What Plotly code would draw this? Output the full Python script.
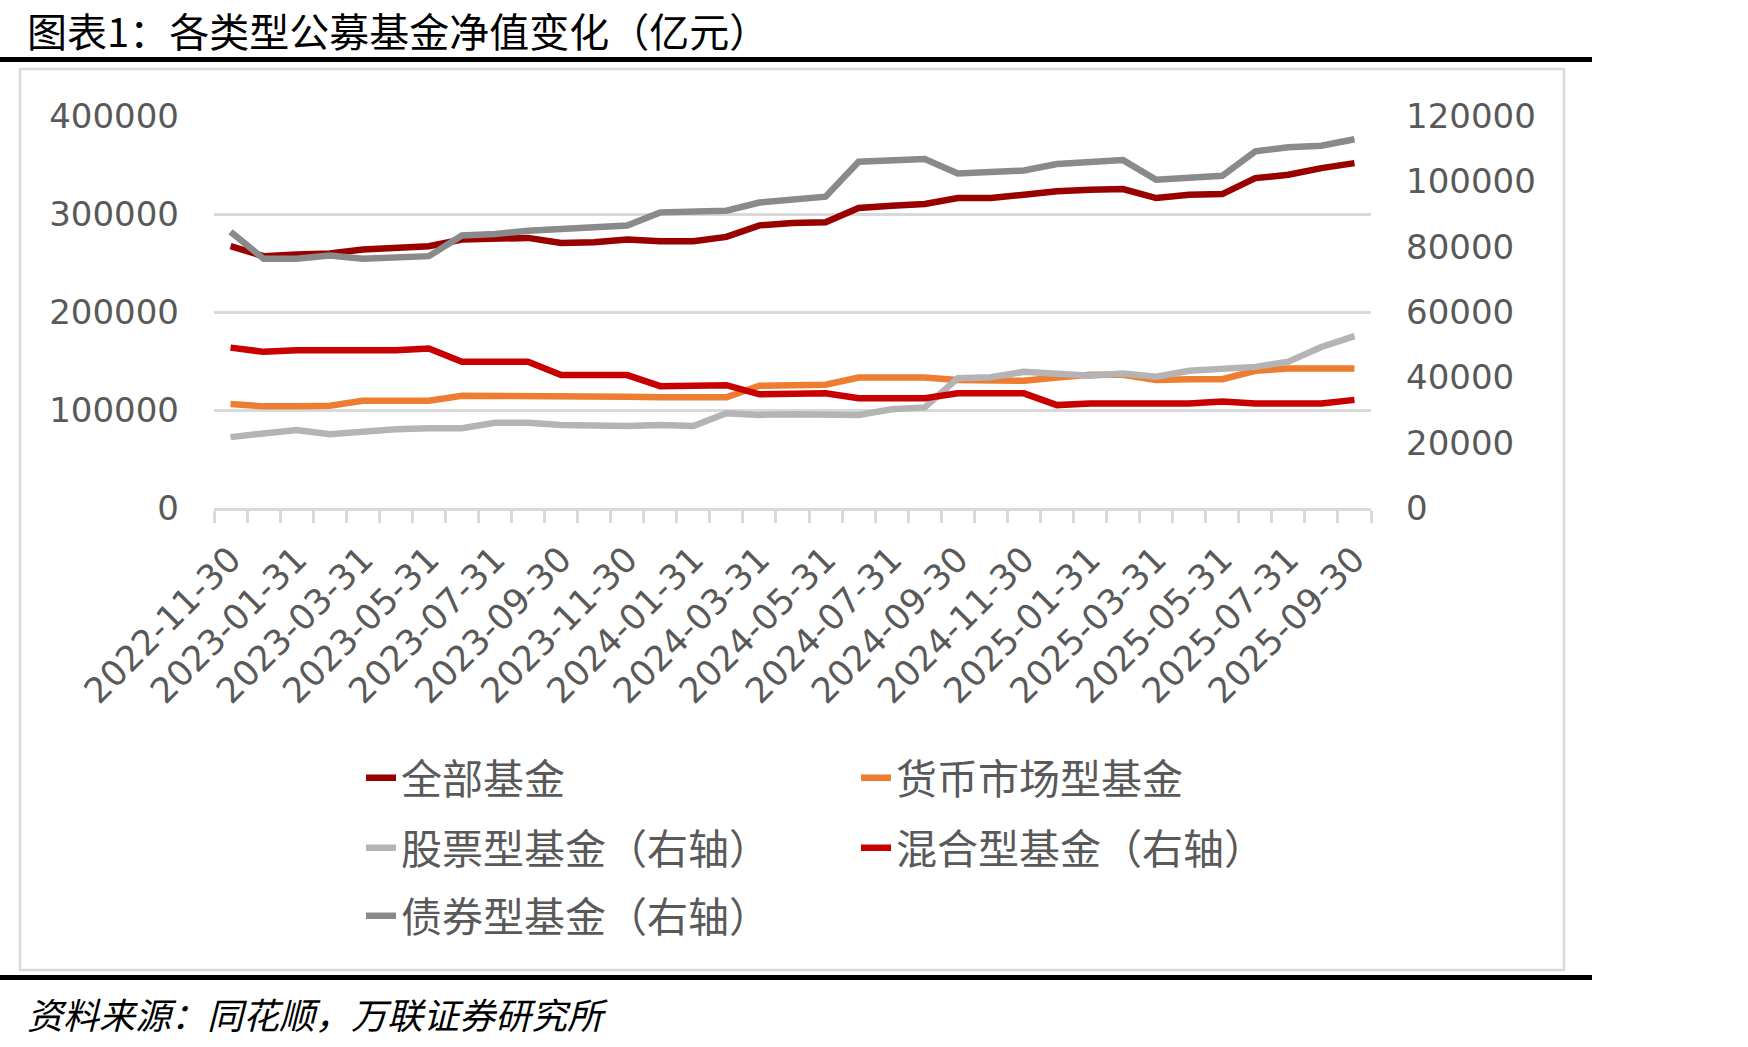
import plotly.graph_objects as go

# ---------------- data ----------------
dates = [
    "2022-11-30", "2022-12-31", "2023-01-31", "2023-02-28", "2023-03-31", "2023-04-30",
    "2023-05-31", "2023-06-30", "2023-07-31", "2023-08-31", "2023-09-30", "2023-10-31",
    "2023-11-30", "2023-12-31", "2024-01-31", "2024-02-29", "2024-03-31", "2024-04-30",
    "2024-05-31", "2024-06-30", "2024-07-31", "2024-08-31", "2024-09-30", "2024-10-31",
    "2024-11-30", "2024-12-31", "2025-01-31", "2025-02-28", "2025-03-31", "2025-04-30",
    "2025-05-31", "2025-06-30", "2025-07-31", "2025-08-31", "2025-09-30",
]

all_funds = [
    267200, 257000, 258600, 259700, 263700, 264700, 267100, 273900, 274600, 275600,
    270500, 271200, 273900, 272200, 272200, 276600, 288400, 290800, 291500, 306100,
    308500, 310200, 316300, 316300, 319700, 323100, 324700, 325400, 316300, 319700,
    320300, 336600, 340000, 346800, 351900,
]
money_funds = [
    106100, 103700, 103700, 104400, 109500, 109500, 109500, 114600, 114600, 114600,
    113600, 113600, 113600, 112900, 112900, 112900, 124700, 124700, 125800, 133200,
    133200, 133200, 130500, 129800, 129800, 133200, 135900, 135900, 130500, 131500,
    131500, 140000, 142300, 142300, 142300,
]
stock_funds = [
    21700, 22900, 23900, 22600, 23600, 24100, 24400, 24400, 26100, 26100,
    25400, 25100, 25100, 25400, 25100, 29000, 28500, 28700, 28500, 28500,
    30200, 30800, 39700, 40000, 41700, 41000, 40500, 41200, 40200, 42000,
    42400, 43200, 44800, 49300, 52600,
]
mixed_funds = [
    49100, 47800, 48300, 48300, 48300, 48300, 48800, 44800, 44800, 44800,
    40700, 40700, 40700, 37300, 37600, 37600, 34800, 35100, 35100, 33600,
    33600, 33600, 35100, 35100, 35100, 31500, 32000, 32000, 32000, 32000,
    32600, 32000, 32000, 32000, 33100,
]
bond_funds = [
    84600, 76300, 76300, 77300, 76300, 76800, 77100, 83400, 83900, 84900,
    85500, 86000, 86500, 90500, 90700, 91000, 93500, 94600, 95300, 106000,
    106500, 106800, 102400, 102700, 103300, 105300, 106100, 106500, 100500, 101000,
    101700, 109200, 110400, 110900, 112900,
]

names = ["全部基金", "货币市场型基金", "股票型基金（右轴）", "混合型基金（右轴）", "债券型基金（右轴）"]

title_text = "图表1：各类型公募基金净值变化（亿元）"
source_text = "资料来源：同花顺，万联证券研究所"

# ---------------- layout helpers ----------------
W, H = 1748, 1047
PL, PR, PT, PB = 214, 1371, 116, 508  # plot area in px


def px_x(px):
    return (px - PL) / (PR - PL)


def px_y(py):
    return (PB - py) / (PB - PT)


idx = list(range(len(dates)))
YTICK_FONT = dict(family="DejaVu Sans", size=34, color="#595959")
XTICK_FONT = dict(family="DejaVu Sans", size=35, color="#595959")
LEG_FONT = dict(family="Noto Sans CJK SC", size=41, color="#595959")

fig = go.Figure()
series = [
    (all_funds, "#990000", "y", "legend"),
    (money_funds, "#ED7D31", "y", "legend"),
    (stock_funds, "#B4B4B4", "y2", "legend2"),
    (mixed_funds, "#C80000", "y2", "legend2"),
    (bond_funds, "#8A8A8A", "y2", "legend3"),
]
for (vals, color, yax, leg), name in zip(series, names):
    fig.add_trace(go.Scatter(
        x=idx, y=vals, name=name, mode="lines",
        line=dict(color=color, width=6.5),
        yaxis=yax, legend=leg,
    ))

leg_common = dict(
    orientation="h", xanchor="left", yanchor="middle",
    font=LEG_FONT, bgcolor="rgba(0,0,0,0)", entrywidth=450,
    itemwidth=30,
)

fig.update_layout(
    width=W, height=H,
    margin=dict(l=PL, r=W - PR, t=PT, b=H - PB),
    paper_bgcolor="white", plot_bgcolor="white",
    showlegend=True,
    legend=dict(x=px_x(361), y=px_y(778), **leg_common),
    legend2=dict(x=px_x(361), y=px_y(848), **leg_common),
    legend3=dict(x=px_x(361), y=px_y(916), **leg_common),
    xaxis=dict(
        range=[-0.5, len(dates) - 0.5],
        tickmode="array", tickvals=idx[::2], ticktext=dates[::2],
        tickangle=-45, tickfont=XTICK_FONT, ticks="",
        showgrid=False, zeroline=False,
        showline=True, linecolor="#D9D9D9", linewidth=2.5,
        minor=dict(tick0=-0.5, dtick=1, ticks="outside", ticklen=12,
                   tickwidth=2.5, tickcolor="#D9D9D9", showgrid=False),
        ticklabelstandoff=14,
    ),
    yaxis=dict(
        range=[0, 400000], dtick=100000, tickformat="d",
        showgrid=True, gridcolor="#D9D9D9", gridwidth=2.5,
        zeroline=False, showline=False, ticks="",
        tickfont=YTICK_FONT, ticklabelstandoff=34,
    ),
    yaxis2=dict(
        range=[0, 120000], dtick=20000, tickformat="d",
        overlaying="y", side="right",
        showgrid=False, zeroline=False, showline=False, ticks="",
        tickfont=YTICK_FONT, ticklabelstandoff=34,
    ),
    shapes=[
        # chart frame
        dict(type="rect", xref="paper", yref="paper",
             x0=px_x(20), x1=px_x(1564), y0=px_y(69), y1=px_y(970),
             line=dict(color="#D9D9D9", width=2.5), fillcolor="rgba(0,0,0,0)", layer="below"),
        # top black rule
        dict(type="rect", xref="paper", yref="paper",
             x0=px_x(0), x1=px_x(1592), y0=px_y(57), y1=px_y(62),
             line=dict(width=0), fillcolor="black"),
        # bottom black rule
        dict(type="rect", xref="paper", yref="paper",
             x0=px_x(0), x1=px_x(1592), y0=px_y(975), y1=px_y(980),
             line=dict(width=0), fillcolor="black"),
    ],
    annotations=[
        dict(text=title_text, xref="paper", yref="paper", x=px_x(25), y=px_y(30),
             xanchor="left", yanchor="middle", showarrow=False,
             font=dict(family="Noto Sans CJK SC", size=40, color="black")),
        dict(text="<i>" + source_text + "</i>", xref="paper", yref="paper",
             x=px_x(25), y=px_y(1013), xanchor="left", yanchor="middle", showarrow=False,
             font=dict(family="Noto Sans CJK SC", size=36, color="black")),
    ],
)

fig.write_html("out.html")
